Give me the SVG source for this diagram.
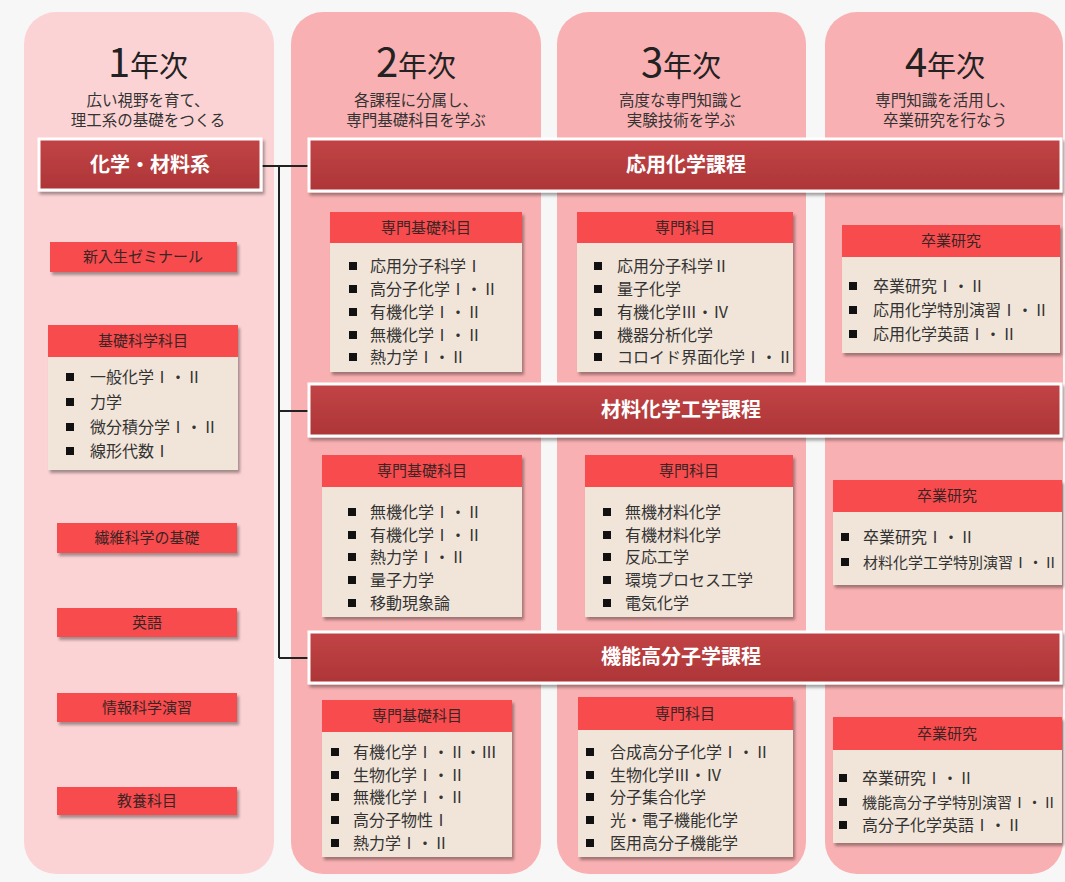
<svg xmlns="http://www.w3.org/2000/svg" width="1065" height="882" viewBox="0 0 1065 882">
<defs>
<filter id="sh" x="-10%" y="-10%" width="130%" height="140%">
<feDropShadow dx="2" dy="3" stdDeviation="1.5" flood-color="#000" flood-opacity="0.35"/>
</filter>
<linearGradient id="bg" x1="0" y1="0" x2="0" y2="1">
<stop offset="0" stop-color="#c24446"/>
<stop offset="1" stop-color="#ad3537"/>
</linearGradient>
</defs>
<style>
text{font-family:"Noto Sans CJK JP","Noto Sans CJK SC",sans-serif;}
.col1{fill:#fcd3d5;}
.col{fill:#f9b0b2;}
.yr{font-size:40px;fill:#222;text-anchor:middle;}
.yr tspan.k{font-size:29px;}
.sub{font-size:15.5px;fill:#333;text-anchor:middle;}
.ban{fill:url(#bg);stroke:#fff;stroke-width:3;filter:url(#sh);}
.bt{font-size:20px;fill:#fff;font-weight:bold;text-anchor:middle;}
.hd{fill:#f84c4e;}
.bd{fill:#f1e5d9;}
.sh{filter:url(#sh);}
.ht{font-size:15px;fill:#3a2424;text-anchor:middle;}
.it{font-size:16px;fill:#333;}
.it.sm{font-size:15px;}
.bl{fill:#111;}
.conn{stroke:#222;stroke-width:2;fill:none;}
</style>
<rect width="1065" height="882" fill="#f7f7f7"/>
<g id="columns">
<rect class="col1" x="24" y="12" width="250" height="862" rx="32"/>
<rect class="col" x="291" y="12" width="250" height="862" rx="32"/>
<rect class="col" x="557" y="12" width="249" height="862" rx="32"/>
<rect class="col" x="825" y="12" width="238" height="862" rx="32"/>
</g>
<g id="headers">
<text class="yr" x="148" y="77">1<tspan class="k">年次</tspan></text>
<text class="sub" x="148" y="106">広い視野を育て、</text>
<text class="sub" x="148" y="126">理工系の基礎をつくる</text>
<text class="yr" x="416" y="77">2<tspan class="k">年次</tspan></text>
<text class="sub" x="416" y="106">各課程に分属し、</text>
<text class="sub" x="416" y="126">専門基礎科目を学ぶ</text>
<text class="yr" x="681" y="77">3<tspan class="k">年次</tspan></text>
<text class="sub" x="681" y="106">高度な専門知識と</text>
<text class="sub" x="681" y="126">実験技術を学ぶ</text>
<text class="yr" x="945" y="77">4<tspan class="k">年次</tspan></text>
<text class="sub" x="945" y="106">専門知識を活用し、</text>
<text class="sub" x="945" y="126">卒業研究を行なう</text>
</g>
<g id="connectors">
<path class="conn" d="M261 166H309M279 166V658M279 411H309M279 658H309"/>
</g>
<g id="kei">
<rect class="ban" x="39" y="139" width="222" height="51"/>
<text class="bt" x="150" y="172">化学・材料系</text>
</g>
<g id="ouyou">
<rect class="ban" x="309" y="139" width="752" height="52"/>
<text class="bt" x="686" y="172">応用化学課程</text>
</g>
<g id="zairyou">
<rect class="ban" x="309" y="384" width="752" height="52"/>
<text class="bt" x="681" y="417">材料化学工学課程</text>
</g>
<g id="kinou">
<rect class="ban" x="309" y="632" width="752" height="51"/>
<text class="bt" x="681" y="664">機能高分子学課程</text>
</g>
<g id="seminar">
<rect class="hd sh" x="50" y="242" width="187" height="30"/>
<text class="ht" x="143" y="262">新入生ゼミナール</text>
</g>
<g id="kiso">
<g class="sh"><rect class="hd" x="48" y="325" width="190" height="32"/><rect class="bd" x="48" y="357" width="190" height="113"/></g>
<text class="ht" x="143" y="346">基礎科学科目</text>
<rect class="bl" x="66" y="373" width="8" height="8"/><text class="it" x="90" y="383">一般化学Ⅰ・Ⅱ</text>
<rect class="bl" x="66" y="398" width="8" height="8"/><text class="it" x="90" y="408">力学</text>
<rect class="bl" x="66" y="423" width="8" height="8"/><text class="it" x="90" y="433">微分積分学Ⅰ・Ⅱ</text>
<rect class="bl" x="66" y="447" width="8" height="8"/><text class="it" x="90" y="457">線形代数Ⅰ</text>
</g>
<g id="sen-i">
<rect class="hd sh" x="57" y="523" width="180" height="30"/>
<text class="ht" x="147" y="543">繊維科学の基礎</text>
</g>
<g id="eigo">
<rect class="hd sh" x="57" y="608" width="180" height="29"/>
<text class="ht" x="147" y="628">英語</text>
</g>
<g id="jouhou">
<rect class="hd sh" x="57" y="693" width="180" height="29"/>
<text class="ht" x="147" y="713">情報科学演習</text>
</g>
<g id="kyouyou">
<rect class="hd sh" x="57" y="787" width="180" height="28"/>
<text class="ht" x="147" y="806">教養科目</text>
</g>
<g id="r1c2">
<g class="sh"><rect class="hd" x="330" y="212" width="192" height="31"/><rect class="bd" x="330" y="243" width="192" height="129"/></g>
<text class="ht" x="426" y="233">専門基礎科目</text>
<rect class="bl" x="349" y="262" width="8" height="8"/><text class="it" x="370" y="272">応用分子科学Ⅰ</text>
<rect class="bl" x="349" y="285" width="8" height="8"/><text class="it" x="370" y="295">高分子化学Ⅰ・Ⅱ</text>
<rect class="bl" x="349" y="308" width="8" height="8"/><text class="it" x="370" y="318">有機化学Ⅰ・Ⅱ</text>
<rect class="bl" x="349" y="331" width="8" height="8"/><text class="it" x="370" y="341">無機化学Ⅰ・Ⅱ</text>
<rect class="bl" x="349" y="353" width="8" height="8"/><text class="it" x="370" y="363">熱力学Ⅰ・Ⅱ</text>
</g>
<g id="r1c3">
<g class="sh"><rect class="hd" x="577" y="212" width="216" height="31"/><rect class="bd" x="577" y="243" width="216" height="129"/></g>
<text class="ht" x="685" y="233">専門科目</text>
<rect class="bl" x="594" y="262" width="8" height="8"/><text class="it" x="617" y="272">応用分子科学Ⅱ</text>
<rect class="bl" x="594" y="285" width="8" height="8"/><text class="it" x="617" y="295">量子化学</text>
<rect class="bl" x="594" y="308" width="8" height="8"/><text class="it" x="617" y="318">有機化学Ⅲ・Ⅳ</text>
<rect class="bl" x="594" y="331" width="8" height="8"/><text class="it" x="617" y="341">機器分析化学</text>
<rect class="bl" x="594" y="353" width="8" height="8"/><text class="it" x="617" y="363">コロイド界面化学Ⅰ・Ⅱ</text>
</g>
<g id="r1c4">
<g class="sh"><rect class="hd" x="842" y="225" width="218" height="32"/><rect class="bd" x="842" y="257" width="218" height="96"/></g>
<text class="ht" x="951" y="246">卒業研究</text>
<rect class="bl" x="849" y="282" width="8" height="8"/><text class="it" x="873" y="292">卒業研究Ⅰ・Ⅱ</text>
<rect class="bl" x="849" y="306" width="8" height="8"/><text class="it" x="873" y="316">応用化学特別演習Ⅰ・Ⅱ</text>
<rect class="bl" x="849" y="330" width="8" height="8"/><text class="it" x="873" y="340">応用化学英語Ⅰ・Ⅱ</text>
</g>
<g id="r2c2">
<g class="sh"><rect class="hd" x="322" y="455" width="200" height="32"/><rect class="bd" x="322" y="487" width="200" height="130"/></g>
<text class="ht" x="422" y="476">専門基礎科目</text>
<rect class="bl" x="348" y="508" width="8" height="8"/><text class="it" x="370" y="518">無機化学Ⅰ・Ⅱ</text>
<rect class="bl" x="348" y="531" width="8" height="8"/><text class="it" x="370" y="541">有機化学Ⅰ・Ⅱ</text>
<rect class="bl" x="348" y="553" width="8" height="8"/><text class="it" x="370" y="563">熱力学Ⅰ・Ⅱ</text>
<rect class="bl" x="348" y="576" width="8" height="8"/><text class="it" x="370" y="586">量子力学</text>
<rect class="bl" x="348" y="599" width="8" height="8"/><text class="it" x="370" y="609">移動現象論</text>
</g>
<g id="r2c3">
<g class="sh"><rect class="hd" x="585" y="455" width="208" height="32"/><rect class="bd" x="585" y="487" width="208" height="130"/></g>
<text class="ht" x="689" y="476">専門科目</text>
<rect class="bl" x="603" y="508" width="8" height="8"/><text class="it" x="625" y="518">無機材料化学</text>
<rect class="bl" x="603" y="531" width="8" height="8"/><text class="it" x="625" y="541">有機材料化学</text>
<rect class="bl" x="603" y="553" width="8" height="8"/><text class="it" x="625" y="563">反応工学</text>
<rect class="bl" x="603" y="576" width="8" height="8"/><text class="it" x="625" y="586">環境プロセス工学</text>
<rect class="bl" x="603" y="599" width="8" height="8"/><text class="it" x="625" y="609">電気化学</text>
</g>
<g id="r2c4">
<g class="sh"><rect class="hd" x="833" y="480" width="229" height="32"/><rect class="bd" x="833" y="512" width="229" height="73"/></g>
<text class="ht" x="947" y="501">卒業研究</text>
<rect class="bl" x="841" y="533" width="8" height="8"/><text class="it" x="863" y="543">卒業研究Ⅰ・Ⅱ</text>
<rect class="bl" x="841" y="558" width="8" height="8"/><text class="it sm" x="863" y="568">材料化学工学特別演習Ⅰ・Ⅱ</text>
</g>
<g id="r3c2">
<g class="sh"><rect class="hd" x="322" y="700" width="190" height="32"/><rect class="bd" x="322" y="732" width="190" height="125"/></g>
<text class="ht" x="417" y="721">専門基礎科目</text>
<rect class="bl" x="331" y="748" width="8" height="8"/><text class="it" x="353" y="758">有機化学Ⅰ・Ⅱ・Ⅲ</text>
<rect class="bl" x="331" y="771" width="8" height="8"/><text class="it" x="353" y="781">生物化学Ⅰ・Ⅱ</text>
<rect class="bl" x="331" y="793" width="8" height="8"/><text class="it" x="353" y="803">無機化学Ⅰ・Ⅱ</text>
<rect class="bl" x="331" y="816" width="8" height="8"/><text class="it" x="353" y="826">高分子物性Ⅰ</text>
<rect class="bl" x="331" y="839" width="8" height="8"/><text class="it" x="353" y="849">熱力学Ⅰ・Ⅱ</text>
</g>
<g id="r3c3">
<g class="sh"><rect class="hd" x="578" y="697" width="215" height="33"/><rect class="bd" x="578" y="730" width="215" height="127"/></g>
<text class="ht" x="685" y="719">専門科目</text>
<rect class="bl" x="586" y="748" width="8" height="8"/><text class="it" x="610" y="758">合成高分子化学Ⅰ・Ⅱ</text>
<rect class="bl" x="586" y="771" width="8" height="8"/><text class="it" x="610" y="781">生物化学Ⅲ・Ⅳ</text>
<rect class="bl" x="586" y="793" width="8" height="8"/><text class="it" x="610" y="803">分子集合化学</text>
<rect class="bl" x="586" y="816" width="8" height="8"/><text class="it" x="610" y="826">光・電子機能化学</text>
<rect class="bl" x="586" y="839" width="8" height="8"/><text class="it" x="610" y="849">医用高分子機能学</text>
</g>
<g id="r3c4">
<g class="sh"><rect class="hd" x="833" y="717" width="229" height="33"/><rect class="bd" x="833" y="750" width="229" height="93"/></g>
<text class="ht" x="947" y="739">卒業研究</text>
<rect class="bl" x="839" y="774" width="8" height="8"/><text class="it" x="862" y="784">卒業研究Ⅰ・Ⅱ</text>
<rect class="bl" x="839" y="798" width="8" height="8"/><text class="it sm" x="862" y="808">機能高分子学特別演習Ⅰ・Ⅱ</text>
<rect class="bl" x="839" y="821" width="8" height="8"/><text class="it" x="862" y="831">高分子化学英語Ⅰ・Ⅱ</text>
</g>
</svg>
